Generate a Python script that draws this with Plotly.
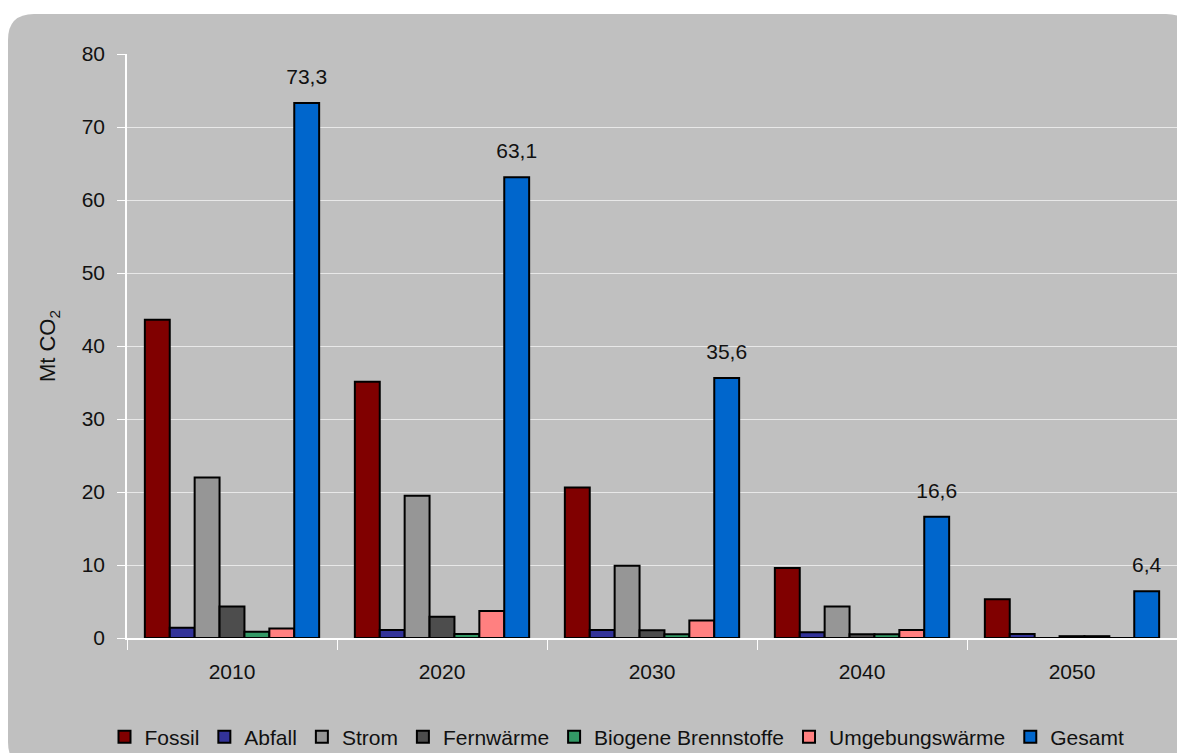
import plotly.graph_objects as go

# Daten
jahre = ["2010", "2020", "2030", "2040", "2050"]
fossil = [43.6, 35.1, 20.6, 9.6, 5.3]
abfall = [1.4, 1.1, 1.1, 0.8, 0.55]
strom = [22.0, 19.5, 9.9, 4.3, 0.0]
fernwaerme = [4.3, 2.9, 1.05, 0.5, 0.25]
biogen = [0.85, 0.55, 0.5, 0.5, 0.25]
umgebung = [1.3, 3.7, 2.4, 1.1, 0.0]
gesamt = [73.3, 63.1, 35.6, 16.6, 6.4]

reihen = [
    ("Fossil", fossil, "#800000"),
    ("Abfall", abfall, "#333399"),
    ("Strom", strom, "#969696"),
    ("Fernwärme", fernwaerme, "#4D4D4D"),
    ("Biogene Brennstoffe", biogen, "#339966"),
    ("Umgebungswärme", umgebung, "#FF8080"),
    ("Gesamt", gesamt, "#0066CC"),
]

W, H = 1177, 753
ML, MR, MT, MB = 127, 0, 54, 115
pw, ph = W - ML - MR, H - MT - MB


# Pixel -> paper-Koordinaten (für den grauen Hintergrund)
def px(x):
    return (x - ML) / pw


def py(y):
    return (H - MB - y) / ph


fig = go.Figure()
for name, werte, farbe in reihen:
    kw = {}
    if name == "Gesamt":
        # kleine zweite Zeile schiebt die Beschriftung etwas nach oben
        kw = dict(texttemplate="<span style='font-size:21px'>%{y:.1f}</span><br> ",
                  textposition="outside", constraintext="none",
                  textfont=dict(size=11, color="#111"))
    fig.add_trace(go.Bar(x=jahre, y=werte, name=name,
                         marker=dict(color=farbe, line=dict(color="black", width=2)),
                         cliponaxis=False, **kw))

# abgerundetes graues Rechteck als Hintergrund
x0, y0, x1, y1, r = 8, 14, 1192, 768, 26
path = (f"M {px(x0 + r)} {py(y0)} L {px(x1 - r)} {py(y0)} "
        f"Q {px(x1)} {py(y0)} {px(x1)} {py(y0 + r)} L {px(x1)} {py(y1 - r)} "
        f"Q {px(x1)} {py(y1)} {px(x1 - r)} {py(y1)} L {px(x0 + r)} {py(y1)} "
        f"Q {px(x0)} {py(y1)} {px(x0)} {py(y1 - r)} L {px(x0)} {py(y0 + r)} "
        f"Q {px(x0)} {py(y0)} {px(x0 + r)} {py(y0)} Z")

fig.update_layout(
    width=W, height=H,
    margin=dict(l=ML, r=MR, t=MT, b=MB, autoexpand=False),
    paper_bgcolor="white",
    plot_bgcolor="rgba(0,0,0,0)",
    font=dict(family="Liberation Sans, Arial, sans-serif", size=21, color="#111"),
    separators=",.",
    barmode="group",
    bargap=0.17,
    bargroupgap=0,
    showlegend=True,
    legend=dict(orientation="h", x=px(617), xanchor="center", y=py(737), yanchor="middle",
                font=dict(size=21), bgcolor="rgba(0,0,0,0)", itemwidth=30,
                tracegroupgap=0),
    shapes=[dict(type="path", path=path, xref="paper", yref="paper",
                 fillcolor="#C0C0C0", line=dict(width=0), layer="below")],
    xaxis=dict(showline=True, linecolor="white", linewidth=1.5,
               ticks="outside", tickson="boundaries", ticklen=10, tickcolor="white",
               tickwidth=1, ticklabelstandoff=14, showgrid=False),
    yaxis=dict(range=[0, 80], dtick=10, showline=True, linecolor="white", linewidth=1.5,
               ticks="outside", ticklen=8, tickcolor="white", ticklabelstandoff=8,
               gridcolor="#E8E8E8", gridwidth=1, zeroline=False,
               title=dict(text="Mt CO<sub>2</sub>", standoff=20, font=dict(size=22))),
)

fig.write_html("out.html", config={"displayModeBar": False},
               post_script="document.body.style.margin='0';document.body.style.overflow='hidden';")
